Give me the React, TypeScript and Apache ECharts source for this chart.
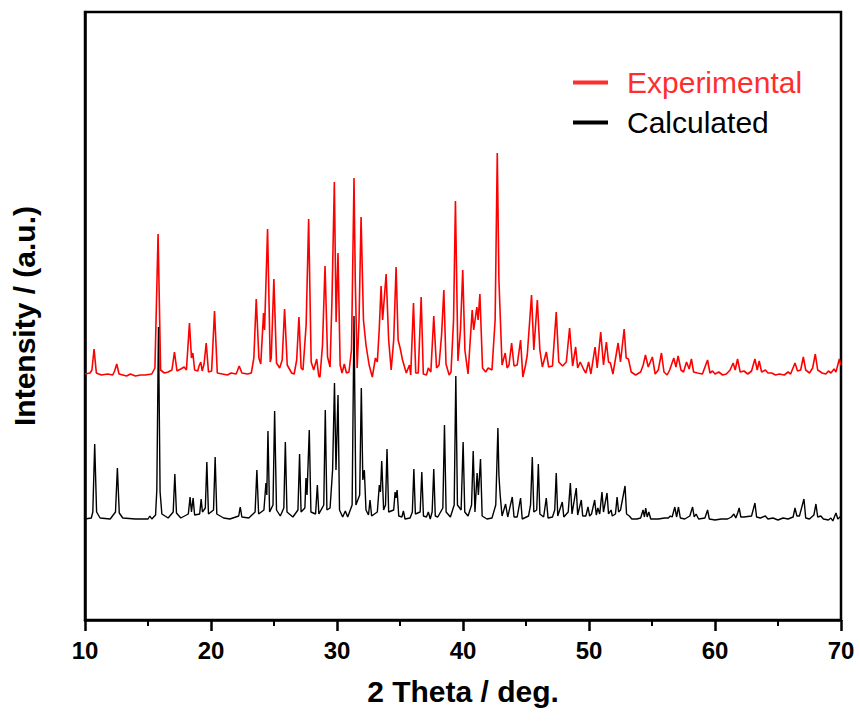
import React, { useEffect, useRef } from "react";
import * as echarts from "echarts";

// 2θ (deg) vs intensity (arbitrary, offset) vertices
const experimental: number[][] = [
  [10.0,246],[10.4,247],[10.55,250],[10.72,271],[10.9,247],[11.3,245],[11.8,246],[12.2,245],[12.35,249],[12.52,256],[12.7,246],
  [13.0,245],[13.3,244],[13.6,246],[14.0,244],[14.4,245],[14.8,245],[15.3,246],[15.55,252],[15.8,386],[16.0,250],[16.3,247],
  [16.6,248],[16.9,250],[17.1,268],[17.3,249],[17.6,251],[17.87,253],[18.05,250],[18.29,297],[18.45,262],[18.56,267],[18.7,250],
  [18.95,249],[19.05,254],[19.19,258],[19.3,249],[19.45,256],[19.62,277],[19.8,248],[20.05,249],[20.28,309],[20.5,247],[20.9,246],
  [21.3,245],[21.6,247],[22.0,246],[22.24,254],[22.45,247],[22.9,246],[23.2,247],[23.4,262],[23.59,321],[23.8,262],[23.95,256],
  [24.17,307],[24.25,290],[24.49,391],[24.7,258],[24.78,262],[24.99,341],[25.2,257],[25.45,252],[25.65,260],[25.84,311],[26.05,255],
  [26.4,247],[26.6,246],[26.8,260],[26.98,303],[27.15,252],[27.3,250],[27.55,295],[27.75,401],[27.95,258],[28.15,250],[28.39,261],
  [28.55,244],[28.65,243],[28.85,275],[29.05,354],[29.25,263],[29.45,253],[29.6,320],[29.79,438],[29.93,298],[30.08,367],[30.25,255],
  [30.4,247],[30.58,256],[30.75,247],[30.95,248],[31.15,270],[31.35,442],[31.45,340],[31.6,252],[31.75,300],[31.91,403],[32.1,300],
  [32.3,275],[32.55,255],[32.8,243],[33.05,262],[33.2,258],[33.35,290],[33.5,334],[33.62,300],[33.9,346],[34.1,280],[34.3,250],
  [34.5,280],[34.69,353],[34.85,280],[35.01,272],[35.2,260],[35.5,247],[35.75,255],[35.85,245],[36.07,317],[36.25,247],[36.45,247],
  [36.68,323],[36.85,246],[37.1,245],[37.25,252],[37.45,248],[37.68,304],[37.9,252],[38.1,255],[38.3,285],[38.48,330],[38.65,256],
  [38.9,245],[39.05,248],[39.25,300],[39.4,419],[39.6,259],[39.8,290],[39.98,350],[40.15,270],[40.4,246],[40.55,275],[40.73,310],
  [40.85,290],[41.1,313],[41.2,300],[41.34,326],[41.55,252],[41.8,248],[42.0,252],[42.3,250],[42.55,300],[42.72,467],[42.85,340],
  [43.1,255],[43.35,267],[43.5,252],[43.65,255],[43.86,277],[44.05,254],[44.3,255],[44.57,280],[44.75,243],[44.95,254],[45.1,265],
  [45.44,325],[45.62,270],[45.9,320],[46.1,270],[46.3,253],[46.61,268],[46.8,253],[47.1,254],[47.4,308],[47.6,258],[47.9,254],
  [48.2,258],[48.46,292],[48.7,254],[48.94,273],[49.1,252],[49.3,258],[49.6,250],[49.75,247],[49.97,258],[50.15,246],[50.48,273],
  [50.65,252],[50.93,288],[51.15,255],[51.38,278],[51.55,258],[51.7,257],[51.9,246],[52.31,277],[52.5,258],[52.79,291],[52.95,262],
  [53.13,261],[53.35,248],[53.7,245],[54.1,248],[54.3,255],[54.48,265],[54.7,253],[55.03,263],[55.25,246],[55.5,250],[55.75,267],
  [55.95,248],[56.2,245],[56.4,250],[56.73,262],[56.9,253],[57.07,264],[57.3,250],[57.5,248],[57.74,258],[57.95,251],[58.13,261],
  [58.3,248],[58.6,247],[59.0,246],[59.41,260],[59.6,247],[59.8,249],[60.0,246],[60.3,248],[60.6,245],[60.9,246],[61.2,250],
  [61.44,257],[61.6,250],[61.79,261],[62.0,248],[62.3,249],[62.6,246],[62.9,249],[63.17,261],[63.35,250],[63.51,259],[63.7,248],
  [64.0,250],[64.2,247],[64.5,247],[64.8,245],[65.1,246],[65.5,245],[65.8,248],[66.0,246],[66.35,257],[66.55,249],[66.8,250],
  [67.01,263],[67.2,250],[67.5,247],[67.75,252],[67.96,266],[68.15,250],[68.5,247],[68.8,246],[69.0,249],[69.2,247],[69.45,251],
  [69.6,248],[69.87,261],[70.0,255],
];

const calculated: number[][] = [
  [10.0,101],[10.5,102],[10.62,108],[10.77,176],[10.92,108],[11.2,102],[12.0,101],[12.42,108],[12.57,152],[12.72,107],[13.0,102],
  [14.0,101],[15.0,101],[15.15,104],[15.3,101],[15.6,105],[15.7,130],[15.83,293],[15.96,128],[16.1,106],[16.6,102],[17.0,108],
  [17.13,146],[17.26,107],[17.6,102],[18.2,106],[18.34,123],[18.45,108],[18.58,122],[18.7,105],[19.1,106],[19.22,121],[19.32,108],
  [19.55,112],[19.67,158],[19.8,106],[20.2,110],[20.33,163],[20.46,106],[21.0,102],[21.5,101],[22.2,104],[22.32,113],[22.45,103],
  [23.0,102],[23.5,108],[23.64,150],[23.78,106],[24.2,110],[24.36,137],[24.43,125],[24.52,189],[24.65,108],[24.92,115],[25.05,209],
  [25.2,110],[25.5,104],[25.78,112],[25.9,178],[26.03,108],[26.5,103],[26.9,110],[27.03,166],[27.15,108],[27.45,112],[27.54,142],
  [27.62,125],[27.8,190],[27.93,108],[28.3,106],[28.44,135],[28.56,106],[28.95,115],[29.07,210],[29.2,110],[29.45,112],[29.65,150],
  [29.8,237],[29.92,150],[30.08,225],[30.2,110],[30.45,103],[30.66,109],[30.85,103],[31.2,115],[31.35,304],[31.5,115],[31.8,125],
  [31.93,232],[32.05,140],[32.17,150],[32.3,110],[32.5,105],[32.62,120],[32.75,104],[33.2,108],[33.36,135],[33.45,128],[33.55,159],
  [33.7,110],[33.85,115],[33.97,171],[34.1,108],[34.5,110],[34.61,128],[34.68,122],[34.77,130],[34.9,104],[35.15,103],[35.27,109],
  [35.4,101],[35.8,102],[35.98,108],[36.1,151],[36.22,106],[36.6,108],[36.73,148],[36.86,104],[37.1,103],[37.25,108],[37.4,101],
  [37.55,108],[37.68,151],[37.8,104],[38.0,103],[38.4,112],[38.53,195],[38.66,108],[39.0,103],[39.3,115],[39.43,244],[39.56,115],
  [39.85,110],[40.01,178],[40.14,108],[40.4,104],[40.68,115],[40.81,169],[40.95,108],[41.12,147],[41.22,125],[41.39,161],[41.52,104],
  [41.9,101],[42.3,102],[42.6,115],[42.77,192],[42.85,145],[42.95,125],[43.1,104],[43.38,116],[43.55,103],[43.91,123],[44.05,103],
  [44.3,103],[44.57,122],[44.7,101],[45.2,104],[45.36,115],[45.5,163],[45.62,108],[45.85,110],[45.98,156],[46.1,106],[46.4,103],
  [46.61,122],[46.75,102],[47.1,103],[47.28,110],[47.4,147],[47.52,104],[47.88,118],[48.0,103],[48.35,108],[48.52,137],[48.65,106],
  [48.99,132],[49.1,105],[49.39,120],[49.5,104],[49.75,104],[49.92,113],[50.05,104],[50.2,106],[50.45,120],[50.58,105],[50.7,112],
  [50.85,106],[51.03,128],[51.15,108],[51.43,127],[51.55,106],[51.75,110],[51.85,104],[52.1,106],[52.23,123],[52.35,108],[52.5,110],
  [52.86,134],[52.98,106],[53.2,104],[53.4,101],[53.8,101],[54.1,102],[54.29,110],[54.4,103],[54.5,112],[54.62,103],[54.75,108],
  [54.9,101],[55.5,101],[56.0,102],[56.3,102],[56.45,104],[56.6,103],[56.81,113],[56.95,103],[57.1,113],[57.25,102],[57.6,101],
  [58.0,104],[58.22,113],[58.35,103],[58.5,106],[58.7,101],[59.2,102],[59.41,110],[59.55,101],[60.0,100],[60.5,101],[61.0,101],
  [61.3,103],[61.5,106],[61.65,102],[61.8,107],[61.92,112],[62.05,103],[62.3,103],[62.9,104],[63.17,117],[63.3,103],[63.6,102],
  [64.0,104],[64.2,101],[64.6,102],[65.0,100],[65.4,102],[65.8,101],[66.2,103],[66.35,112],[66.5,104],[66.7,104],[67.06,121],
  [67.2,102],[67.5,101],[67.85,105],[68.01,116],[68.15,103],[68.4,104],[68.6,101],[69.0,100],[69.2,102],[69.35,99],[69.6,107],
  [69.75,101],[70.0,104],
];

const seriesNames = ["Experimental", "Calculated"];
const xTicks = [10, 20, 30, 40, 50, 60, 70];

const FONT = "'Liberation Sans', Arial, Helvetica, sans-serif";

export default function App() {
  const ref = useRef<HTMLDivElement>(null);
  useEffect(() => {
    if (!ref.current) return;
    const chart = echarts.init(ref.current, undefined, { renderer: "svg" });
    chart.setOption({
      animation: false,
      backgroundColor: "#ffffff",
      grid: {
        left: 85,
        right: 19,
        top: 12,
        bottom: 102,
        show: true,
        borderColor: "#000",
        borderWidth: 2.5,
        backgroundColor: "transparent",
      },
      legend: {
        orient: "vertical",
        left: 573,
        top: 67,
        padding: 0,
        itemWidth: 35,
        itemHeight: 4,
        itemGap: 9,
        icon: "rect",
        textStyle: {
          fontFamily: FONT,
          fontSize: 30,
          lineHeight: 31,
          padding: [0, 0, 0, 14],
        },
        data: [
          { name: seriesNames[0], textStyle: { color: "#ff2e2e" } },
          { name: seriesNames[1], textStyle: { color: "#000000" } },
        ],
      },
      xAxis: {
        type: "value",
        min: xTicks[0],
        max: xTicks[xTicks.length - 1],
        interval: 10,
        name: "2 Theta / deg.",
        nameLocation: "middle",
        nameGap: 56,
        nameTextStyle: { fontFamily: FONT, fontSize: 30, fontWeight: "bold", color: "#000" },
        axisLine: { show: true, lineStyle: { color: "#000", width: 2.5 } },
        axisTick: { show: true, inside: false, length: 11, lineStyle: { color: "#000", width: 2.5 } },
        minorTick: { show: true, splitNumber: 2, length: 6, lineStyle: { color: "#000", width: 2 } },
        axisLabel: { fontFamily: FONT, fontSize: 24, fontWeight: "bold", color: "#000", margin: 18 },
        splitLine: { show: false },
      },
      yAxis: {
        type: "value",
        min: 0,
        max: 608,
        name: "Intensity / (a.u.)",
        nameLocation: "middle",
        nameGap: 46,
        nameTextStyle: { fontFamily: FONT, fontSize: 30, fontWeight: "bold", color: "#000" },
        axisLine: { show: true, lineStyle: { color: "#000", width: 2.5 } },
        axisTick: { show: false },
        axisLabel: { show: false },
        splitLine: { show: false },
      },
      series: [
        {
          name: seriesNames[0],
          type: "line",
          data: experimental,
          symbol: "none",
          lineStyle: { color: "#ff0000", width: 1.6 },
          itemStyle: { color: "#ff2e2e" },
        },
        {
          name: seriesNames[1],
          type: "line",
          data: calculated,
          symbol: "none",
          lineStyle: { color: "#000000", width: 1.4 },
          itemStyle: { color: "#000000" },
        },
      ],
    });
    return () => chart.dispose();
  }, []);
  return (
    <div
      ref={ref}
      style={{ position: "fixed", left: 0, top: 0, width: 860, height: 722, background: "#fff" }}
    />
  );
}
